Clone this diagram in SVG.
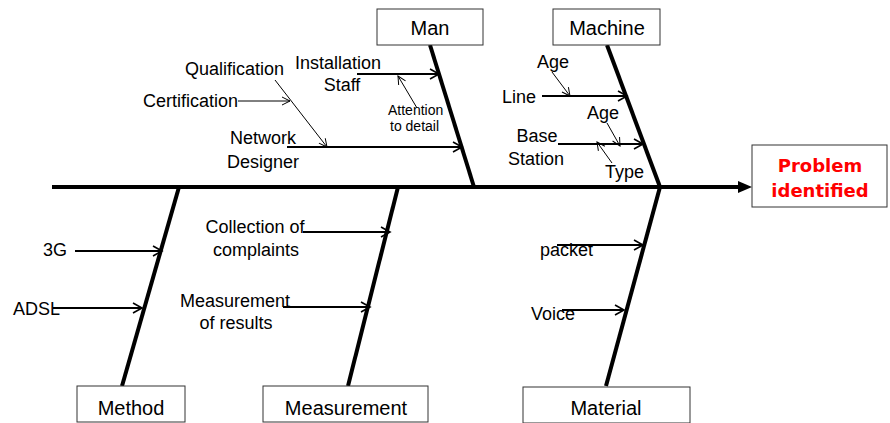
<svg xmlns="http://www.w3.org/2000/svg" width="890" height="423" viewBox="0 0 890 423">
<style>
text{font-family:"Liberation Sans",Arial,sans-serif;font-size:18px;fill:#000}
.lbl{font-size:20px;text-anchor:middle}
.sm{font-size:14px}
.prob{font-family:"DejaVu Sans",Verdana,sans-serif;font-weight:bold;font-size:18px;fill:#ff0000;text-anchor:middle}
.box{fill:#fff;stroke:#333;stroke-width:1}
.bone{stroke:#000;stroke-width:4;fill:none}
.cause{stroke:#000;stroke-width:2;fill:none;marker-end:url(#open)}
.sub{stroke:#000;stroke-width:1;fill:none;marker-end:url(#opens)}
</style>
<defs>
<marker id="open" markerUnits="userSpaceOnUse" markerWidth="12" markerHeight="12" refX="10" refY="6" orient="auto" overflow="visible">
<path d="M1,1 L10,6 L1,11" fill="none" stroke="#000" stroke-width="1.6"/>
</marker>
<marker id="opens" markerUnits="userSpaceOnUse" markerWidth="10" markerHeight="10" refX="9" refY="5" orient="auto" overflow="visible">
<path d="M1,1 L9,5 L1,9" fill="none" stroke="#000" stroke-width="1"/>
</marker>
</defs>
<g id="connectors">
<line x1="52" y1="187" x2="740" y2="187" stroke="#000" stroke-width="4"/>
<path d="M738,181 L752,187 L738,193 Z" fill="#000"/>
<line class="bone" x1="430" y1="45" x2="474" y2="187"/>
<line class="bone" x1="607" y1="45" x2="660" y2="187"/>
<line class="bone" x1="179" y1="187" x2="122" y2="386"/>
<line class="bone" x1="398" y1="187" x2="348" y2="386"/>
<line class="bone" x1="660" y1="187" x2="606" y2="386"/>
<line class="cause" x1="357" y1="74" x2="439" y2="74"/>
<line class="cause" x1="287" y1="147" x2="462" y2="147"/>
<line class="sub" x1="275" y1="80" x2="327" y2="147"/>
<line class="sub" x1="238" y1="101" x2="290" y2="101"/>
<line class="sub" x1="417" y1="108" x2="398" y2="76"/>
<line class="cause" x1="542" y1="96" x2="627" y2="96"/>
<line class="sub" x1="552" y1="72" x2="570" y2="96"/>
<line class="cause" x1="558" y1="144" x2="643" y2="144"/>
<line class="sub" x1="607" y1="123" x2="620" y2="146"/>
<line class="sub" x1="612" y1="163" x2="597" y2="142"/>
<line class="cause" x1="75" y1="251" x2="162" y2="251"/>
<line class="cause" x1="53" y1="308" x2="142" y2="308"/>
<line class="cause" x1="303" y1="232" x2="390" y2="232"/>
<line class="cause" x1="283" y1="307" x2="370" y2="307"/>
<line class="cause" x1="557" y1="245" x2="643" y2="245"/>
<line class="cause" x1="562" y1="310" x2="624" y2="310"/>
</g>
<g id="man">
<rect class="box" x="377" y="9" width="106" height="36"/>
<text class="lbl" x="430" y="35">Man</text>
</g>
<g id="machine">
<rect class="box" x="553" y="9" width="107" height="36"/>
<text class="lbl" x="607" y="35">Machine</text>
</g>
<g id="method">
<rect class="box" x="77" y="386" width="108" height="36"/>
<text class="lbl" x="131" y="415">Method</text>
</g>
<g id="measurement">
<rect class="box" x="263" y="386" width="165" height="36"/>
<text class="lbl" x="346" y="415">Measurement</text>
</g>
<g id="material">
<rect class="box" x="523" y="387" width="167" height="36"/>
<text class="lbl" x="606" y="415">Material</text>
</g>
<g id="problem">
<rect class="box" x="752" y="145" width="135" height="62"/>
<text class="prob" x="820" y="172">Problem</text>
<text class="prob" x="820" y="197">identified</text>
</g>
<g id="man-causes">
<text x="185" y="75">Qualification</text>
<text x="295" y="69">Installation</text>
<text x="342" y="91" text-anchor="middle">Staff</text>
<text x="143" y="107">Certification</text>
<text class="sm" x="388" y="115">Attention</text>
<text class="sm" x="390" y="131">to detail</text>
<text x="263" y="144" text-anchor="middle">Network</text>
<text x="263" y="168" text-anchor="middle">Designer</text>
</g>
<g id="machine-causes">
<text x="537" y="68">Age</text>
<text x="502" y="103">Line</text>
<text x="587" y="119">Age</text>
<text x="537" y="142" text-anchor="middle">Base</text>
<text x="536" y="165" text-anchor="middle">Station</text>
<text x="605" y="178">Type</text>
</g>
<g id="method-causes">
<text x="43" y="256">3G</text>
<text x="13" y="315">ADSL</text>
</g>
<g id="measurement-causes">
<text x="255" y="233" text-anchor="middle">Collection of</text>
<text x="256" y="256" text-anchor="middle">complaints</text>
<text x="235" y="307" text-anchor="middle">Measurement</text>
<text x="236" y="329" text-anchor="middle">of results</text>
</g>
<g id="material-causes">
<text x="540" y="256">packet</text>
<text x="531" y="320">Voice</text>
</g>
</svg>
